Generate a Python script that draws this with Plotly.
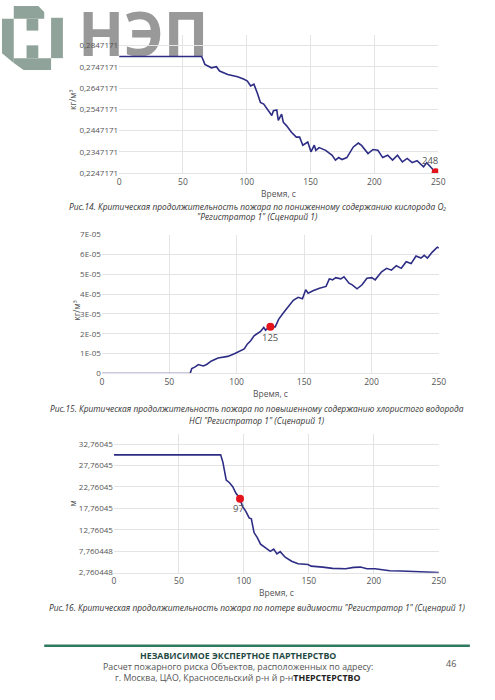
"""
Рис.14-16 - критическая продолжительность пожара, Регистратор 1 (Сценарий 1)
"""

import plotly.graph_objects as go

W, H = 495, 700

# Рис.14 - кислород O2, кг/м3
o2_t = [0, 64.7, 67.2, 72.3, 76.2, 78.7, 85.1, 92.8, 97.9, 100.5, 103, 105.6, 108.1, 110.7,
        113.3, 117.1, 119.6, 120.9, 123.5, 124.7, 127.3, 128.6, 131.1, 135, 138.8, 141.4,
        143.9, 147.8, 150.3, 152.9, 154.1, 156.7, 161.8, 166.9, 169.5, 172.0, 174.6, 178.4,
        183.5, 187.4, 189.9, 195.0, 198.9, 202.7, 206.5, 210.4, 214.2, 218.1, 221.9, 225.7,
        229.6, 233.4, 238.5, 241.0, 243.6, 246.2, 248]
o2_val = [0.2795, 0.2795, 0.2758, 0.2742, 0.2747, 0.2727, 0.2711, 0.2700, 0.2688, 0.2680,
          0.2657, 0.2665, 0.2626, 0.2580, 0.2572, 0.2541, 0.2518, 0.2541, 0.2544, 0.2495,
          0.2525, 0.2487, 0.2471, 0.2440, 0.2417, 0.2417, 0.2379, 0.2394, 0.2348, 0.2379,
          0.2355, 0.2368, 0.2355, 0.2332, 0.2309, 0.2321, 0.2312, 0.2321, 0.2371, 0.2389,
          0.2378, 0.2340, 0.2359, 0.2355, 0.2321, 0.2332, 0.2309, 0.2332, 0.2301, 0.2317,
          0.2297, 0.2306, 0.2278, 0.2297, 0.2278, 0.2263, 0.2253]
o2_crit = (248, 0.2252)
o2_ticks = [0.2247171, 0.2347171, 0.2447171, 0.2547171, 0.2647171, 0.2747171, 0.2847171]
o2_ticktext = ['0,2247171', '0,2347171', '0,2447171', '0,2547171', '0,2647171',
               '0,2747171', '0,2847171']

# Рис.15 - хлористый водород HCl, кг/м3
hcl_t = [0, 65.5, 66.7, 69.2, 71.6, 75.2, 77.7, 81.3, 86.2, 93.4, 98.3, 103.2, 105.6, 108.0,
         110.4, 112.9, 117.7, 120.1, 121.4, 123.8, 125, 128.6, 131.1, 134.7, 138.3, 142.0,
         145.6, 148.8, 151.2, 153.0, 156.6, 161.4, 166.3, 168.7, 171.1, 173.5, 177.2, 179.6,
         183.3, 185.7, 189.3, 193.0, 196.6, 200.2, 202.7, 205.1, 207.5, 211.2, 214.8, 218.4,
         222.1, 225.7, 229.4, 233.0, 236.7, 239.1, 241.5, 245.1, 248.8, 250]
hcl_val = [0, 0, 0.25e-5, 0.33e-5, 0.45e-5, 0.38e-5, 0.45e-5, 0.63e-5, 0.78e-5, 0.86e-5,
           0.99e-5, 1.16e-5, 1.24e-5, 1.49e-5, 1.65e-5, 1.90e-5, 2.12e-5, 2.32e-5, 2.18e-5,
           2.32e-5, 2.35e-5, 2.35e-5, 2.73e-5, 3.06e-5, 3.39e-5, 3.69e-5, 3.84e-5, 3.77e-5,
           4.22e-5, 4.05e-5, 4.17e-5, 4.30e-5, 4.39e-5, 4.77e-5, 4.72e-5, 4.83e-5, 4.77e-5,
           4.87e-5, 4.55e-5, 4.47e-5, 4.27e-5, 4.47e-5, 4.80e-5, 4.83e-5, 4.72e-5, 4.93e-5,
           5.13e-5, 5.30e-5, 5.21e-5, 5.43e-5, 5.30e-5, 5.63e-5, 5.54e-5, 5.92e-5, 5.82e-5,
           5.96e-5, 5.82e-5, 6.12e-5, 6.37e-5, 6.32e-5]
hcl_crit = (125, 2.35e-5)
hcl_ticks = [0, 1e-5, 2e-5, 3e-5, 4e-5, 5e-5, 6e-5, 7e-5]
hcl_ticktext = ['0', '1E-05', '2E-05', '3E-05', '4E-05', '5E-05', '6E-05', '7E-05']

# Рис.16 - потеря видимости, м
vis_t = [0, 82.1, 83.8, 85.1, 86.4, 88.9, 91.4, 93.9, 96.9, 98.9, 101.5, 104.0, 105.7, 107.8,
         110.3, 112.8, 116.6, 120.3, 122.9, 125.4, 127.9, 131.7, 136.7, 141.7, 149.3, 151.7,
         160.6, 168.2, 178.2, 184.5, 189.6, 194.6, 200.9, 207.2, 212.2, 221.0, 231.1, 241.2, 250]
vis_val = [30.24, 30.24, 28.55, 26.26, 24.35, 23.73, 22.81, 21.28, 20.06, 18.22, 17.07, 15.54,
           15.3, 12.11, 10.95, 9.42, 8.66, 7.74, 8.27, 7.13, 7.66, 6.36, 5.44, 4.83, 4.67, 4.29,
           4.06, 3.76, 3.68, 3.99, 4.06, 3.68, 3.68, 3.45, 3.22, 3.15, 3.07, 2.91, 2.76]
vis_crit = (97, 20.0)
vis_ticks = [2.760448, 7.760448, 12.76045, 17.76045, 22.76045, 27.76045, 32.76045]
vis_ticktext = ['2,760448', '7,760448', '12,76045', '17,76045', '22,76045', '27,76045', '32,76045']

x_ticks = [0, 50, 100, 150, 200, 250]

LINE = '#2e2d85'
RED = '#e5131b'
GRID = '#e4e4e4'
FONT = 'Open Sans'


# позиции задаются в пикселях страницы 495x700 и переводятся в доли листа
def px(x):
    return x / W


def py(y):
    return 1 - y / H


def note(x, y, text, size, color, angle=0):
    fig.add_annotation(x=px(x), y=py(y), xref='paper', yref='paper', text=text,
                       xanchor='center', yanchor='middle', showarrow=False, textangle=angle,
                       font=dict(family=FONT, size=size, color=color))


fig = go.Figure()

# логотип - текст "НЭП" на отдельной оси, рисуется первым (под графиками)
fig.add_trace(go.Scatter(
    x=[0.5], y=[0.45], mode='text', text=['НЭП'], xaxis='x', yaxis='y', cliponaxis=False,
    textfont=dict(family='Open Sans', size=60, color='#999999', weight=700),
    hoverinfo='skip', showlegend=False,
))

# (номер оси, время, значения, точка, подпись, сдвиг подписи)
charts = [
    (2, o2_t, o2_val, o2_crit, '248', (-6, 12)),
    (3, hcl_t, hcl_val, hcl_crit, '125', (0, -11)),
    (4, vis_t, vis_val, vis_crit, '97', (-2, -10)),
]
for n, t, v, crit, lbl, shift in charts:
    fig.add_trace(go.Scatter(
        x=t, y=v, mode='lines', xaxis=f'x{n}', yaxis=f'y{n}',
        line=dict(color=LINE, width=1.6), showlegend=False,
    ))
    fig.add_trace(go.Scatter(
        x=[crit[0]], y=[crit[1]], mode='markers', xaxis=f'x{n}', yaxis=f'y{n}',
        marker=dict(color=RED, size=8), showlegend=False,
    ))
    fig.add_annotation(x=crit[0], y=crit[1], xref=f'x{n}', yref=f'y{n}', text=lbl,
                       showarrow=False, xshift=shift[0], yshift=shift[1],
                       font=dict(family=FONT, size=9.5, color='#555'))


def xax(x0, x1, anchor):
    return dict(domain=[px(x0), px(x1)], range=[0, 250], anchor=anchor,
                tickvals=x_ticks, showgrid=True, gridcolor=GRID, zeroline=False,
                showline=True, linecolor=GRID, ticks='', ticklen=0,
                tickfont=dict(family=FONT, size=8.5, color='#555'), fixedrange=True)


def yax(y_top, y_bot, anchor, rng, tickvals, ticktext):
    return dict(domain=[py(y_bot), py(y_top)], range=rng, anchor=anchor,
                tickvals=tickvals, ticktext=ticktext, showgrid=True, gridcolor=GRID,
                zeroline=False, showline=False, ticks='', ticklen=0,
                tickfont=dict(family=FONT, size=8, color='#555'), fixedrange=True)


fig.update_layout(
    width=W, height=H,
    margin=dict(l=0, r=0, t=0, b=0),
    paper_bgcolor='white', plot_bgcolor='rgba(0,0,0,0)',
    showlegend=False,
    xaxis=dict(domain=[px(82), px(206)], range=[0, 1], visible=False, fixedrange=True),
    yaxis=dict(domain=[py(62), py(4)], range=[0, 1], visible=False, fixedrange=True),
    xaxis2=xax(119.3, 444.3, 'y2'),
    yaxis2=yax(29.3, 170, 'x2', [0.2247171, 0.28966], o2_ticks, o2_ticktext),
    xaxis3=xax(101.7, 445, 'y3'),
    yaxis3=yax(232.3, 373.3, 'x3', [0, 7e-5], hcl_ticks, hcl_ticktext),
    xaxis4=xax(114, 445, 'y4'),
    yaxis4=yax(435, 575.7, 'x4', [2.760448, 35.06], vis_ticks, vis_ticktext),
)

# логотип - пиктограмма
LOGO = '#8fa39a'
logo_paths = [
    [(12, 0), (37, 0), (43, 6), (43, 13), (12, 13)],
    [(0, 13), (12, 13), (12, 58), (0, 48)],
    [(25, 13), (37, 13), (37, 25), (25, 25)],
    [(25, 40), (37, 40), (37, 53), (25, 53)],
    [(50, 12), (62, 12), (62, 53), (50, 53)],
    [(12, 53), (50, 53), (50, 65), (22, 65), (12, 58)],
]
for pts in logo_paths:
    path = 'M ' + ' L '.join(f'{px(a):.4f},{py(b):.4f}' for a, b in pts) + ' Z'
    fig.add_shape(type='path', path=path, xref='paper', yref='paper',
                  fillcolor=LOGO, line_width=0, layer='below')

# подписи осей
axis_titles = [
    (282, 190.7, 'Время, с', 0), (71.7, 95, 'кг/м³', -90),
    (273, 393.3, 'Время, с', 0), (75, 310, 'кг/м³', -90),
    (280, 595.7, 'Время, с', 0), (71.7, 505, 'м', -90),
]
for x, y, txt, ang in axis_titles:
    note(x, y, txt, 8.5, '#555', ang)

captions = [
    (203.7, 'Рис.14. Критическая продолжительность пожара по пониженному содержанию кислорода O₂'),
    (213.6, '"Регистратор 1" (Сценарий 1)'),
    (408.7, 'Рис.15. Критическая продолжительность пожара по повышенному содержанию хлористого водорода'),
    (421, 'HCl "Регистратор 1" (Сценарий 1)'),
    (611, 'Рис.16. Критическая продолжительность пожара по потере видимости "Регистратор 1" (Сценарий 1)'),
]
for y, txt in captions:
    note(260, y, f'<i>{txt}</i>', 8.4, '#333')

# колонтитул
fig.add_shape(type='line', xref='paper', yref='paper', x0=px(43), x1=px(476.5),
              y0=py(650), y1=py(650), line=dict(color='#2f7a5e', width=2.5))
note(240, 660.5, '<b>НЕЗАВИСИМОЕ ЭКСПЕРТНОЕ ПАРТНЕРСТВО</b>', 8.8, '#1f4a44')
note(240, 671.5, 'Расчет пожарного риска Объектов, расположенных по адресу:', 8.8, '#555')
note(240, 682.5, 'г. Москва, ЦАО, Красносельский р-н й р-н<b style="color:#222">ТНЕРСТЕРСТВО</b>',
     8.8, '#555')
note(457, 668, '46', 9, '#555')

# у страницы убираем поля body, чтобы рисунок 495x700 занимал окно целиком
page_js = "document.body.style.margin='0';document.body.style.overflow='hidden';"
fig.write_html('out.html', config={'displayModeBar': False}, post_script=page_js)
